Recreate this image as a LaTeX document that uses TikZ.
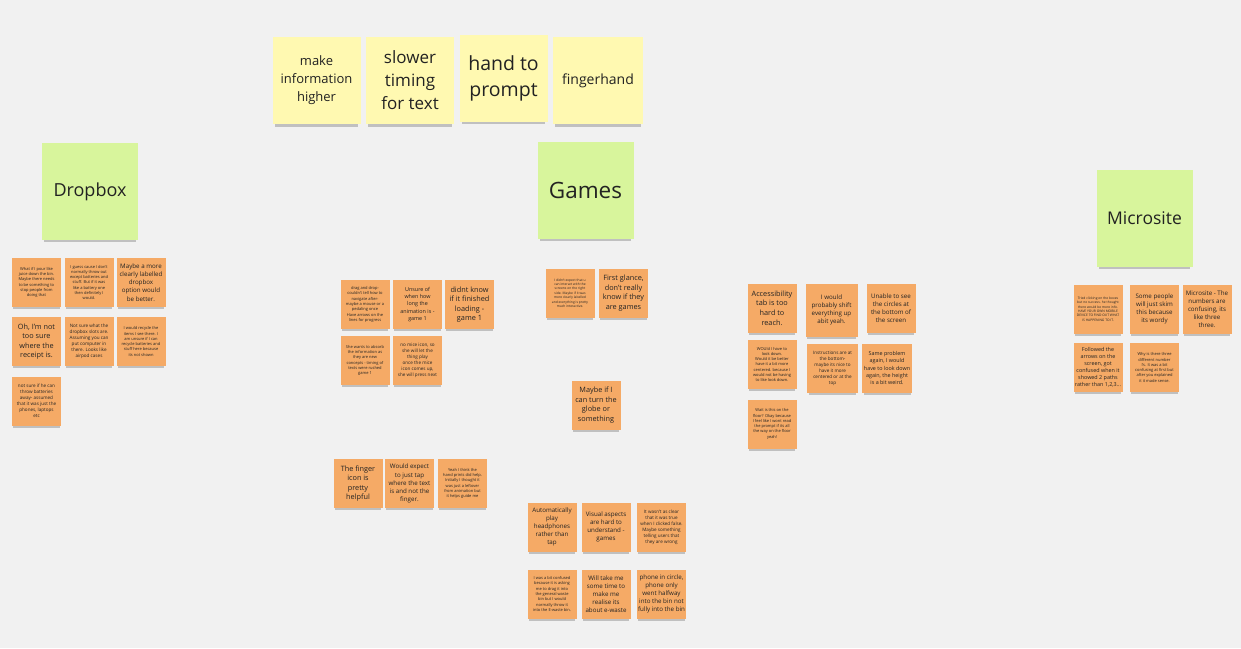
\documentclass[tikz,border=0pt]{standalone}
\usepackage{fontspec}
\setmainfont{Open Sans}
\usetikzlibrary{shadows,positioning}
\definecolor{boardbg}{HTML}{F1F1F1}
\definecolor{noteorange}{HTML}{F5AA66}
\definecolor{ideayellow}{HTML}{FFF9B1}
\definecolor{headgreen}{HTML}{D8F59C}
\definecolor{inkgray}{HTML}{222222}

\begin{document}
\begin{tikzpicture}[
    x=1pt, y=-1pt,
    note/.style={rectangle, fill=noteorange, minimum width=49pt, minimum height=49pt, inner sep=1pt, align=center, text=inkgray,
        general shadow={fill=black, opacity=0.2, shadow yshift=-4pt, shadow scale=0.94}},
    header/.style={rectangle, fill=headgreen, minimum width=96pt, minimum height=97pt, text=inkgray, font=\fontsize{18}{22}\selectfont,
        general shadow={fill=black, opacity=0.2, shadow yshift=-5pt, shadow scale=0.95}},
    idea/.style={rectangle, fill=ideayellow, minimum width=88pt, minimum height=87pt, align=center, text=inkgray,
        general shadow={fill=black, opacity=0.2, shadow yshift=-5pt, shadow scale=0.95}},
    fxxs/.style={font=\fontsize{3.3}{4.4}\selectfont},
    fxs/.style={font=\fontsize{4}{5.3}\selectfont},
    fsm/.style={font=\fontsize{4.6}{6}\selectfont},
    fmd/.style={font=\fontsize{5.4}{7.1}\selectfont},
    flg/.style={font=\fontsize{6.2}{8.1}\selectfont},
    fxl/.style={font=\fontsize{7.3}{9.6}\selectfont}
]
\fill[boardbg] (0,0) rectangle (1241,648);
\useasboundingbox (0,0) rectangle (1241,648);

% ideas on top
\node[idea, font=\fontsize{13}{18}\selectfont] (higher) at (316.5,80.5) {make\\information\\higher};
\node[idea, font=\fontsize{17}{23}\selectfont] (slower) at (410,80.5) {slower\\timing\\for text};
\node[idea, font=\fontsize{19.5}{26}\selectfont] (handprompt) at (503.5,78) {hand to\\prompt};
\node[idea, font=\fontsize{14}{18}\selectfont, minimum width=90pt] (fingerhand) at (598,80.5) {fingerhand};

% headers
\node[header] (dropbox) at (90,191.5) {Dropbox};
\node[header, font=\fontsize{22.5}{26}\selectfont] (games) at (585.5,190) {Games};
\node[header, font=\fontsize{17.5}{22}\selectfont] (microsite) at (1144.5,218) {Microsite};

% dropbox notes
\node[note, fxs] (db1) at (36.5,282.5) {What if I pour like\\juice down the bin.\\Maybe there needs\\to be something to\\stop people from\\doing that};
\node[note, fxs] (db2) at (89,282.5) {I guess cause I don't\\normally throw out\\except batteries and\\stuff. But if it was\\like a battery one\\then definitely I\\would.};
\node[note, flg] (db3) at (141,282.5) {Maybe a more\\clearly labelled\\dropbox\\option would\\be better.};
\node[note, fxl] (db4) at (36.5,341.5) {Oh, I'm not\\too sure\\where the\\receipt is.};
\node[note, fsm] (db5) at (89,341.5) {Not sure what the\\dropbox slots are.\\Assuming you can\\put computer in\\there. Looks like\\airpod cases};
\node[note, fxs] (db6) at (141,341.5) {I would recycle the\\items I see there. I\\am unsure if I can\\recycle batteries and\\stuff here because\\its not shown};
\node[note, fsm] (db7) at (36.5,401) {not sure if he can\\throw batteries\\away- assumed\\that it was just the\\phones, laptops\\etc};

% game 1 notes
\node[note, fxs] (gm1) at (365,304.5) {drag and drop-\\couldn't tell how to\\navigate after-\\maybe a mouse or a\\pedaling once\\Have arrows on the\\lines for progress};
\node[note, fmd] (gm2) at (417.5,304.5) {Unsure of\\when how\\long the\\animation is -\\game 1};
\node[note, fxl] (gm3) at (469.5,304.5) {didnt know\\if it finished\\loading -\\game 1};
\node[note, fxs] (gm4) at (365,360.5) {She wants to absorb\\the information as\\they are new\\concepts - timing of\\texts were rushed\\game 1};
\node[note, fsm] (gm5) at (417.5,360.5) {no mice icon, so\\she will let the\\thing play\\once the mice\\icon comes up,\\she will press next};

% finger notes
\node[note, fxl] (fg1) at (358,483.5) {The finger\\icon is\\pretty\\helpful};
\node[note, flg] (fg2) at (409.5,483.5) {Would expect\\to just tap\\where the text\\is and not the\\finger.};
\node[note, fxs] (fg3) at (462.5,483.5) {Yeah I think the\\hand prints did help.\\Initially I thought it\\was just a leftover\\from animation but\\it helps guide me};

% games notes
\node[note, fxxs] (gs1) at (570,293) {I didn't expect that u\\can interact with the\\screens on the right\\side. Maybe if it was\\more clearly labelled\\and everything is pretty\\much interactive.};
\node[note, fxl] (gs2) at (623.5,293) {First glance,\\don't really\\know if they\\are games};
\node[note, fxl] (gs3) at (596,405) {Maybe if I\\can turn the\\globe or\\something};
\node[note, flg] (gs4) at (552,527) {Automatically\\play\\headphones\\rather than\\tap};
\node[note, flg] (gs5) at (606,527) {Visual aspects\\are hard to\\understand -\\games};
\node[note, fsm] (gs6) at (661.5,527) {It wasn't as clear\\that it was true\\when I clicked false.\\Maybe something\\telling users that\\they are wrong};
\node[note, fxs] (gs7) at (552,594) {I was a bit confused\\because it is asking\\me to drag it into\\the general waste\\bin but I would\\normally throw it\\into the E-waste bin.};
\node[note, flg] (gs8) at (606,594) {Will take me\\some time to\\make me\\realise its\\about e-waste};
\node[note, flg] (gs9) at (661.5,594) {phone in circle,\\phone only\\went halfway\\into the bin not\\fully into the bin};

% accessibility notes
\node[note, fxl] (ac1) at (772,308) {Accessibility\\tab is too\\hard to\\reach.};
\node[note, flg, minimum width=52pt, minimum height=53pt] (ac2) at (831.5,310) {I would\\probably shift\\everything up\\abit yeah.};
\node[note, flg] (ac3) at (891,308) {Unable to see\\the circles at\\the bottom of\\the screen};
\node[note, fxs] (ac4) at (772,364.5) {WOUld I have to\\look down.\\Would it be better\\have it a bit more\\centered. because I\\would not be having\\to like look down.};
\node[note, fsm, minimum width=51pt] (ac5) at (832.5,368) {Instructions are at\\the bottom-\\maybe its nice to\\have it more\\centered or at the\\top};
\node[note, fmd, minimum width=50pt] (ac6) at (887,368) {Same problem\\again, I would\\have to look down\\again, the height\\is a bit weird.};
\node[note, fxs] (ac7) at (772,424) {Wait is this on the\\floor? Okay because\\I feel like I wont read\\the prompt if its all\\the way on the floor\\yeah!};

% microsite notes
\node[note, fxxs] (ms1) at (1098,309) {Tried clicking on the boxes\\but no success. he thought\\there would be more info.\\HAVE YOUR OWN MOBILE\\DEVICE TO FIND OUT WHAT\\IS HAPPENING TO IT.};
\node[note, flg] (ms2) at (1154.5,309) {Some people\\will just skim\\this because\\its wordy};
\node[note, flg] (ms3) at (1207,309) {Microsite - The\\numbers are\\confusing, its\\like three\\three.};
\node[note, fmd] (ms4) at (1098,367.5) {Followed the\\arrows on the\\screen, got\\confused when it\\showed 2 paths\\rather than 1,2,3...};
\node[note, fxs] (ms5) at (1154.5,367.5) {Why is there three\\different number\\I's. It was a bit\\confusing at first but\\after you explained\\it it made sense.};

\end{tikzpicture}
\end{document}
